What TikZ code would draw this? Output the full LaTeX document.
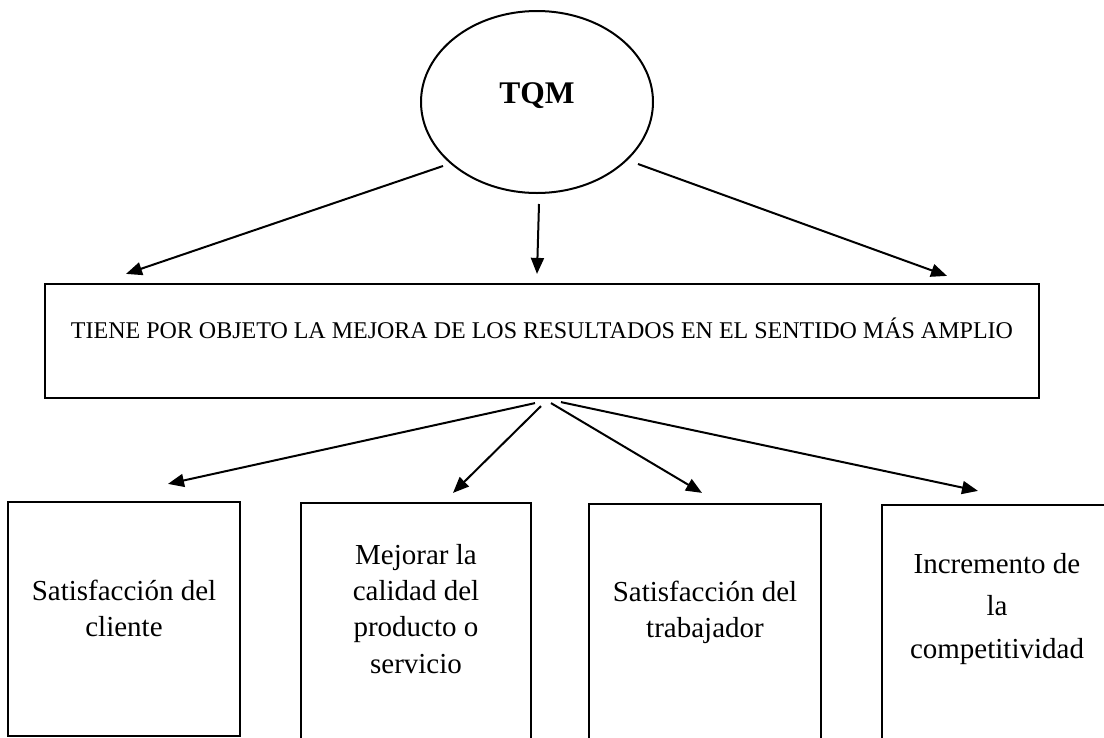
\documentclass[tikz,border=0pt]{standalone}
\usepackage{fontspec}
\setmainfont{Liberation Serif}
\usetikzlibrary{arrows.meta,shapes.geometric}
\begin{document}
\begin{tikzpicture}[x=1pt,y=-1pt,
  arr/.style={-{Triangle[length=16pt,width=13pt]}, line width=2pt},
  outline/.style={draw, line width=2.2pt, rectangle, inner sep=0pt},
  lbl/.style={font=\fontsize{29}{36.3}\selectfont, align=center, anchor=north, inner sep=0pt}]
\useasboundingbox (0,0) rectangle (1104,737);
\clip (0,0) rectangle (1104,737);
% top ellipse
\node[draw, ellipse, line width=2pt, minimum width=232pt, minimum height=182pt, inner sep=0pt,
      font=\fontsize{31.5}{36}\selectfont\bfseries, text height=21pt, text depth=19pt] (tqm) at (537,102) {TQM};
% wide box
\node[outline, minimum width=994pt, minimum height=114pt,
      font=\fontsize{24}{28}\selectfont, text height=17pt, text depth=23pt] (goal) at (542,341)
      {TIENE POR OBJETO LA MEJORA DE LOS RESULTADOS EN EL SENTIDO MÁS AMPLIO};
% bottom boxes
\node[outline, minimum width=232pt, minimum height=234pt] (b1) at (124,619) {};
\node[outline, minimum width=230pt, minimum height=267pt] (b2) at (416,636.5) {};
\node[outline, minimum width=232pt, minimum height=266pt] (b3) at (705,637) {};
\node[outline, minimum width=232pt, minimum height=265pt] (b4) at (998,637.5) {};
% texts
\node[lbl] (t1) at (124,580) {Satisfacción del\\cliente};
\node[lbl] (t2) at (416,544) {Mejorar la\\calidad del\\producto o\\servicio};
\node[lbl] (t3) at (705,581) {Satisfacción del\\trabajador};
\node[lbl, font=\fontsize{29}{42.5}\selectfont] (t4) at (997,553) {Incremento de\\la\\competitividad};
% arrows from ellipse
\draw[arr] ([shift={(-94,64)}]tqm.center) -- ([shift={(-416,-9)}]goal.north);
\draw[arr] ([shift={(2,10)}]tqm.south) -- ([shift={(-5,-9)}]goal.north);
\draw[arr] ([shift={(101,62)}]tqm.center) -- ([shift={(405,-7)}]goal.north);
% arrows to bottom boxes
\draw[arr] ([shift={(-7,4)}]goal.south) -- ([shift={(44,-17)}]b1.north);
\draw[arr] ([shift={(-1,7)}]goal.south) -- ([shift={(37,-9)}]b2.north);
\draw[arr] ([shift={(9,4)}]goal.south) -- ([shift={(-3,-10)}]b3.north);
\draw[arr] ([shift={(19,3)}]goal.south) -- ([shift={(-20,-13)}]b4.north);
\end{tikzpicture}
\end{document}
